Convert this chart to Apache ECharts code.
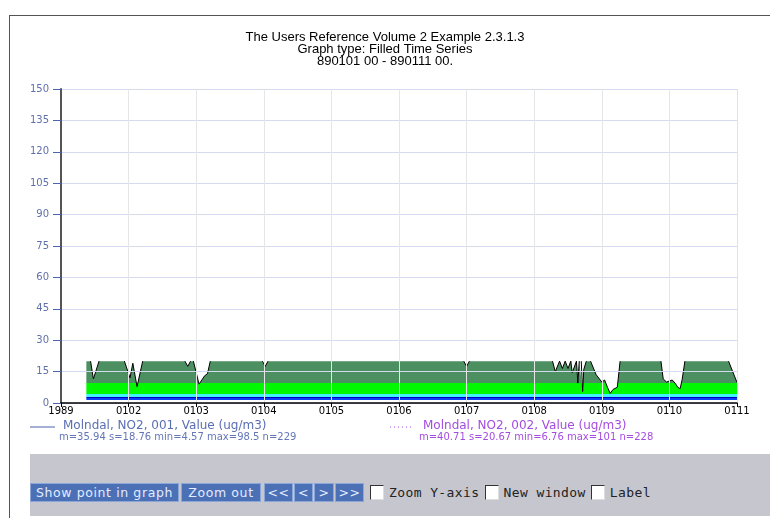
<!DOCTYPE html>
<html>
<head>
<meta charset="utf-8">
<script src="https://cdn.jsdelivr.net/npm/echarts@6/dist/echarts.min.js"></script>
<style>
  html, body { margin: 0; padding: 0; background: #fff; overflow: hidden; }
  #frame { position: absolute; left: 9px; top: 15px; width: 900px; height: 700px; border: 1px solid #555; }
  #chart { position: absolute; left: 0; top: 0; width: 770px; height: 518px; }
  #panel { position: absolute; left: 30px; top: 454px; width: 740px; height: 62px; background: #c6c6ce; }
  #bar { position: absolute; left: 30px; top: 483px; height: 19px; display: flex; align-items: center; }
  .btn { background: #4b70b6; color: #e4ecff; height: 19px; line-height: 18px; padding: 0;
         font-family: "DejaVu Sans", sans-serif; font-size: 12.5px; letter-spacing: 0.6px; text-align: center;
         border: 1px solid #8da6d8; box-sizing: border-box; margin-right: 1px; white-space: nowrap; }
  .chk { width: 14px; height: 15px; background: #fff; border: 1px solid #333; border-right-color: #ddd;
         border-bottom-color: #ddd; box-sizing: border-box; margin: 0 5px 0 5px; }
  .lbl { color: #222; white-space: nowrap; font-family: "DejaVu Sans Mono", monospace; font-size: 13px; letter-spacing: 0.4px; }
</style>
</head>
<body>
<div id="frame"></div>
<div id="chart"></div>
<div id="panel"></div>
<div id="bar">
  <div class="btn" style="width:149px;margin-right:2px">Show point in graph</div>
  <div class="btn" style="width:80px;margin-right:3px">Zoom out</div>
  <div class="btn" style="width:29px">&lt;&lt;</div>
  <div class="btn" style="width:19px">&lt;</div>
  <div class="btn" style="width:20px">&gt;</div>
  <div class="btn" style="width:29px">&gt;&gt;</div>
  <div class="chk"></div><span class="lbl">Zoom Y-axis</span>
  <div class="chk"></div><span class="lbl">New window</span>
  <div class="chk"></div><span class="lbl">Label</span>
</div>
<script>
// hours since 890101 00 and the plotted (clipped at 20) value of station 001
const hours = [9, 10.5, 11.5, 13.5, 22.5, 24.5, 25.5, 27, 29, 44, 45, 46, 47, 49, 50, 51, 52, 53,
  71.5, 72.5, 73.5, 143, 144, 145, 174.5, 175.5, 177, 178, 179, 180, 181, 181.5, 183, 183.5, 184,
  184.7, 185.2, 185.6, 186.5, 188, 190, 192, 193, 194, 195, 196, 197.5, 198.5, 213, 213.8, 215,
  216, 217, 218, 219, 219.8, 220.5, 221.5, 237, 240];
const values = [20, 20, 11.5, 20, 20, 12, 19, 7.8, 20, 20, 17.5, 20, 20, 9, 11, 13, 14, 20,
  20, 17.5, 20, 20, 17.5, 20, 20, 15, 20, 16.5, 20, 16.5, 20, 14.5, 20, 9.5, 20,
  20, 5.5, 16, 20, 20, 13.5, 10, 11, 7.5, 4.6, 6.5, 7.5, 20, 20, 11.5, 10,
  10.5, 11, 9.5, 7.5, 6.8, 11, 20, 20, 9.8];
const ceiling = 20;
const dayTicks = [0, 24, 48, 72, 96, 120, 144, 168, 192, 216, 240];
const xTickLabels = ['1989', '0102', '0103', '0104', '0105', '0106', '0107', '0108', '0109', '0110', '0111'];
const series1 = { name: 'Molndal, NO2, 001, Value (ug/m3)', stats: 'm=35.94 s=18.76 min=4.57 max=98.5 n=229' };
const series2 = { name: 'Molndal, NO2, 002, Value (ug/m3)', stats: 'm=40.71 s=20.67 min=6.76 max=101 n=228' };
// fill bands by value
const bands = [
  { lt: 1.4, color: '#ffffff' },
  { gte: 1.4, lt: 2.4, color: '#0a3cff' },
  { gte: 2.4, lt: 3, color: '#0000b4' },
  { gte: 3, lt: 4.4, color: '#3ff2ff' },
  { gte: 4.4, lt: 9.7, color: '#00f800' },
  { gte: 9.7, color: '#4c9062' }
];

const points = hours.map((h, i) => [h, values[i]]);

// the black outline is only drawn where the curve drops below the ceiling
const segments = [];
let cur = null;
values.forEach((v, i) => {
  if (v < ceiling) {
    if (!cur) cur = i > 0 ? [points[i - 1]] : [];
    cur.push(points[i]);
  } else if (cur) {
    cur.push(points[i]);
    segments.push(cur);
    cur = null;
  }
});
if (cur) segments.push(cur);

const chart = echarts.init(document.getElementById('chart'));
const legendFont = 'DejaVu Sans';

chart.setOption({
  animation: false,
  title: {
    text: 'The Users Reference Volume 2 Example 2.3.1.3\nGraph type: Filled Time Series\n890101 00 - 890111 00.',
    left: 'center',
    top: 31,
    padding: 0,
    textStyle: { fontFamily: 'Liberation Sans', fontSize: 13, fontWeight: 'normal', color: '#000', lineHeight: 12 }
  },
  grid: { left: 61, right: 33, top: 89, bottom: 115, outerBoundsMode: 'none' },
  xAxis: {
    type: 'value',
    min: 0, max: 240, interval: 24,
    z: 5,
    axisLine: { lineStyle: { color: '#000', width: 1.5 } },
    axisTick: { length: 4, lineStyle: { color: '#000' } },
    axisLabel: {
      color: '#000', fontFamily: 'DejaVu Sans', fontSize: 10, margin: 3,
      formatter: v => xTickLabels[dayTicks.indexOf(v)]
    },
    splitLine: { show: true, lineStyle: { color: '#e2e2e2' } }
  },
  yAxis: {
    type: 'value',
    min: 0, max: 150, interval: 15,
    z: 5,
    axisLine: { show: true, lineStyle: { color: '#555', width: 2 } },
    axisTick: { show: true, length: 8, lineStyle: { color: '#4a64b0' } },
    axisLabel: { color: '#6070aa', fontFamily: 'DejaVu Sans', fontSize: 10, margin: 12 },
    splitLine: { show: true, lineStyle: { color: '#d6daf0' } }
  },
  visualMap: [
    { type: 'piecewise', show: false, dimension: 1, seriesIndex: 0, pieces: bands }
  ],
  series: [
    {
      type: 'line', data: points, symbol: 'none', z: 2,
      lineStyle: { width: 0, opacity: 0 },
      areaStyle: { opacity: 1 },
      markLine: {
        silent: true, symbol: 'none', label: { show: false },
        lineStyle: { color: '#e6e6e6', type: 'solid', width: 1 },
        data: dayTicks.slice(1, -1).map(h => ({ xAxis: h }))
      }
    }
  ].concat(segments.map(seg => ({
    type: 'line', data: seg, symbol: 'none', z: 3,
    lineStyle: { width: 1, color: '#000' }, itemStyle: { color: '#000' }
  }))),
  graphic: [
    { type: 'line', shape: { x1: 30, y1: 427, x2: 55, y2: 427 }, style: { stroke: '#4a62ac', lineWidth: 1 } },
    { type: 'text', x: 63, y: 426, style: { text: series1.name, fill: '#5a6eb4', font: '12px ' + legendFont, textVerticalAlign: 'middle' } },
    { type: 'text', x: 59, y: 437, style: { text: series1.stats, fill: '#6376b8', font: '10px ' + legendFont, textVerticalAlign: 'middle' } },
    { type: 'line', shape: { x1: 390, y1: 427, x2: 413, y2: 427 }, style: { stroke: '#a64ee0', lineWidth: 1, lineDash: [1, 3] } },
    { type: 'text', x: 423, y: 426, style: { text: series2.name, fill: '#a44ce0', font: '12px ' + legendFont, textVerticalAlign: 'middle' } },
    { type: 'text', x: 419, y: 437, style: { text: series2.stats, fill: '#a44ce0', font: '10px ' + legendFont, textVerticalAlign: 'middle' } }
  ]
});
</script>
</body>
</html>
